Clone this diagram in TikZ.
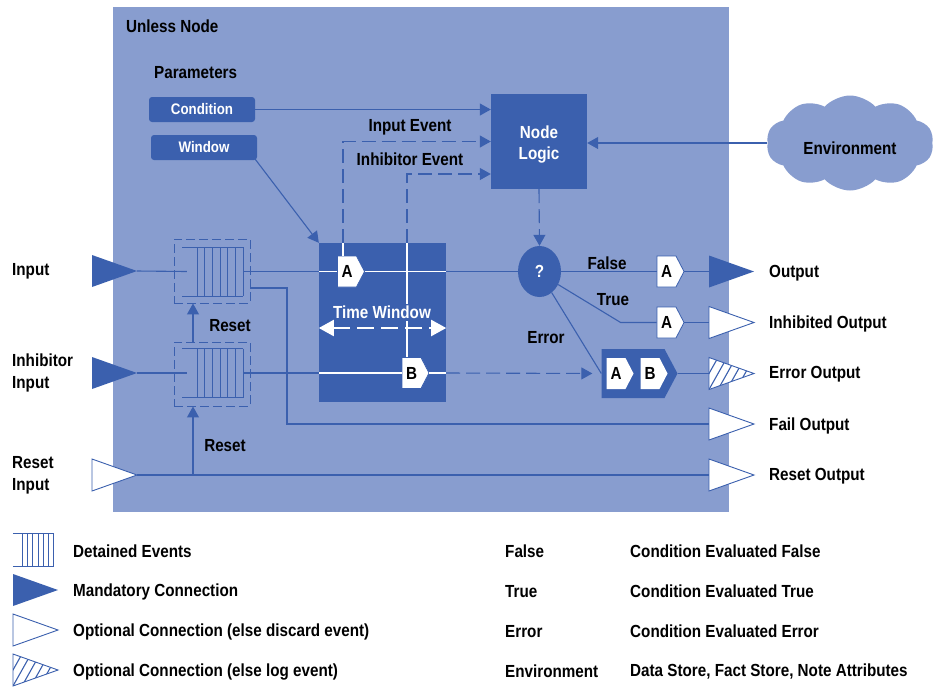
\documentclass[tikz,border=0pt]{standalone}
\usepackage{fontspec}
\setmainfont[FakeStretch=0.87]{Liberation Sans}
\usetikzlibrary{calc}
\usetikzlibrary{positioning}
\usetikzlibrary{shapes.geometric}
\usetikzlibrary{shapes.symbols}
\usetikzlibrary{arrows.meta}
\definecolor{paleblue}{RGB}{136,157,207}
\definecolor{deepblue}{RGB}{59,96,174}
\newcommand{\lblsize}{\fontsize{17.5}{22}\selectfont\bfseries}
\tikzstyle{lbl} = [font=\lblsize, inner sep=0pt, align=left, yshift=-1.5pt]
\tikzstyle{lblw} = [lbl, anchor=west]
\tikzstyle{parbox} = [fill=deepblue, rounded corners=3pt, minimum width=106pt, minimum height=25pt, text=white, font=\fontsize{15.3}{17}\selectfont\bfseries]
\tikzstyle{tag} = [signal, signal to=east, signal pointer angle=125, draw=deepblue, fill=white, line width=0.8pt, minimum width=27pt, minimum height=31pt, inner sep=0pt, font=\lblsize]
\tikzstyle{buffer} = [draw=deepblue, dash pattern=on 9pt off 4pt, line width=0.9pt, minimum width=76pt, minimum height=64pt]
\tikzstyle{queue} = [minimum width=61pt, minimum height=49pt, inner sep=0pt]
\tikzstyle{conn} = [draw=deepblue, line width=1.1pt]
\tikzstyle{event} = [conn, dash pattern=on 14pt off 6pt]
\tikzstyle{head} = [-{Triangle[length=11pt, width=12pt]}]
\tikzstyle{wline} = [draw=white, line width=1.8pt]
\tikzset{
  mandatory/.pic={\fill[deepblue] (0,-16) -- (45,0) -- (0,16) -- cycle;},
  optional/.pic={\filldraw[fill=white, draw=deepblue, line width=0.9pt] (0,-16) -- (45,0) -- (0,16) -- cycle;},
  logged/.pic={
    \fill[white] (0,-16) -- (45,0) -- (0,16) -- cycle;
    \begin{scope}
      \clip (0,-16) -- (45,0) -- (0,16) -- cycle;
      \foreach \d in {-18,-9,...,45} \draw[deepblue, line width=1.1pt] (\d,16) -- (\d+18,-16);
    \end{scope}
    \draw[deepblue, line width=0.9pt] (0,-16) -- (45,0) -- (0,16) -- cycle;
  },
  detained/.pic={
    \draw[deepblue, line width=0.9pt] (-30.5,-24.5) -- (30.5,-24.5) (-30.5,24.5) -- (30.5,24.5);
    \foreach \i in {0,...,6} \draw[deepblue, line width=0.9pt] (-15.5+\i*7.67,-24.5) -- (-15.5+\i*7.67,24.5);
  }
}

\begin{document}
\begin{tikzpicture}[x=1pt, y=-1pt]
    \useasboundingbox (0,0) rectangle (933,686);

    % the node frame and its parameters
    \fill[paleblue] (113,7) rectangle (729,512);
    \node[lblw] (title) at (126,25) {Unless Node};
    \node[lblw] (params) at (154,71) {Parameters};
    \node[parbox] (cond) at (202,109.5) {Condition};
    \node[parbox] (win) at (204,147.5) {Window};

    \node[fill=deepblue, minimum width=96pt, minimum height=95pt, text=white, font=\lblsize, align=center] (logic) at (539,141.5) {};
    \node[lbl, text=white, align=center] (logic_txt) at (539,143) {Node\\[-1pt]Logic};
    \node[cloud, cloud puffs=10, cloud puff arc=95, aspect=1.8, fill=paleblue, minimum width=167pt, minimum height=95pt, inner sep=0pt] (env) at (850,143) {};
    \node[lbl] (env_txt) at (850,147) {Environment};

    % time window with its two tags
    \node[fill=deepblue, minimum width=127pt, minimum height=159pt] (tw) at (382.5,322.5) {};
    \node[tag] (tagA) at (347,271.5) {A};
    \node[tag] (tagB) at (411.5,373) {B};
    \coordinate (evA) at ($(tagA.north)+(-4,0)$);
    \coordinate (evB) at ($(tagB.north)+(-4.5,0)$);
    \draw[wline] (tw.west |- tagA) -- (tagA.west) (tagA.east) -- (tw.east |- tagA);
    \draw[wline] (tw.west |- tagB) -- (tagB.west) (tagB.east) -- (tw.east |- tagB);
    \draw[wline] (evA |- tw.north) -- (evA);
    \draw[wline] (evB |- tw.north) -- (evB);
    \node[lbl, text=white, fill=deepblue, inner ysep=2pt] (twlbl) at (382,311) {Time Window};
    \draw[white, line width=2pt, dash pattern=on 17pt off 7pt, {Triangle[length=15pt,width=16pt]}-{Triangle[length=15pt,width=16pt]}] ($(tw.west)+(0,5.5)$) -- ($(tw.east)+(0,5.5)$);

    % detained event queues
    \node[buffer] (inbuf) at (212,271) {};
    \node[buffer] (inhbuf) at (212,374) {};
    \node[queue] (inq) at (212.5,271.5) {};
    \node[queue] (inhq) at (212.5,373) {};
    \pic at (inq) {detained};
    \pic at (inhq) {detained};

    % evaluation and outputs
    \node[ellipse, fill=deepblue, minimum width=43pt, minimum height=51pt, text=white, font=\lblsize, inner sep=0pt] (quest) at (539.5,271.5) {?};
    \node[tag] (fa) at (666.5,271.5) {A};
    \node[tag] (ta) at (666.5,322.5) {A};
    \node[signal, signal to=east, signal pointer angle=124, fill=deepblue, minimum width=76pt, minimum height=49pt] (errbox) at (633,373.5) {};
    \node[tag, draw=none] (ea) at (616,373.5) {A};
    \node[tag, draw=none] (eb) at (650,373.5) {B};

    % connection points
    \pic at (92,271) {mandatory};
    \pic at (92,373) {mandatory};
    \pic at (92,475) {optional};
    \coordinate (in_tip) at (137,271);
    \coordinate (inh_tip) at (137,373);
    \coordinate (rst_tip) at (137,475);
    \pic at (709,271.5) {mandatory};
    \pic at (709,322.5) {optional};
    \pic at (709,373.5) {logged};
    \pic at (709,424) {optional};
    \pic at (709,475) {optional};
    \coordinate (out_base) at (709,271.5);
    \coordinate (inh_base) at (709,322.5);
    \coordinate (err_base) at (709,373.5);
    \coordinate (fail_base) at (709,424);
    \coordinate (rst_base) at (709,475);

    % connectors
    \draw[conn, head] (cond.east) -- (cond.east -| logic.west);
    \draw[conn, head] (env.west) -- (env.west -| logic.east);
    \draw[conn, head] ($(win.south east)+(-2,-1)$) -- (tw.north west);
    \draw[event, head] (evA |- tw.north) -- (evA |- logic.west) -- (logic.west);
    \draw[event, head] (evB |- tw.north) -- (evB |- 0,174) -- (logic.west |- 0,174);
    \draw[event, head] (logic.south) -- (quest.north);

    \draw[conn] (in_tip) -- ($(inq.west)+(5,0)$);
    \draw[conn] (inq.east) -- (tw.west |- inq);
    \draw[conn] (tw.east |- tagA) -- (quest.west);
    \draw[conn] (quest.east) -- (fa.west);
    \draw[conn] (fa.east) -- (out_base);
    \draw[conn] (quest.-35) -- ($(ta.west)+(-36,0)$) -- (ta.west);
    \draw[conn] (ta.east) -- (inh_base);
    \draw[conn] (quest.-60) -- (errbox.west);
    \draw[conn] (errbox.east) -- (err_base);

    \draw[conn] (inh_tip) -- ($(inhq.west)+(5,0)$);
    \draw[conn] (inhq.east) -- (tw.west |- inhq);
    \draw[event, head, shorten >=9pt] (tw.east |- tagB) -- (errbox.west);

    \draw[conn, head] ($(inhbuf.north)+(-19,0)$) -- ($(inbuf.south)+(-19,0)$);
    \coordinate (rst_up) at ($(inhbuf.south)+(-19,0)$);
    \draw[conn] (rst_tip) -- (rst_base);
    \draw[conn, head] (rst_up |- rst_tip) -- (rst_up);
    \coordinate (fail_turn) at (287,424);
    \draw[conn] ($(inbuf.east)+(0,17)$) -| (fail_turn) -- (fail_base);

    % labels
    \node[lbl] (l_inev) at (410,126) {Input Event};
    \node[lbl] (l_inhev) at (410,158) {Inhibitor Event};
    \node[lbl] (l_rst1) at (230,324) {Reset};
    \node[lbl] (l_rst2) at (225,444) {Reset};
    \node[lbl] (l_false) at (607,262) {False};
    \node[lbl] (l_true) at (613,298) {True};
    \node[lbl] (l_err) at (546,336) {Error};
    \node[lblw] (l_in) at (12,270) {Input};
    \node[lblw] (l_inh) at (12,371) {Inhibitor\\Input};
    \node[lblw] (l_rin) at (12,474) {Reset\\Input};
    \node[lblw] (l_out) at (769,272) {Output};
    \node[lblw] (l_inhout) at (769,322) {Inhibited Output};
    \node[lblw] (l_errout) at (769,373) {Error Output};
    \node[lblw] (l_failout) at (769,424) {Fail Output};
    \node[lblw] (l_rstout) at (769,475) {Reset Output};

    % legend
    \pic[xscale=0.66, yscale=0.69] at (33,550) {detained};
    \pic at (13,590) {mandatory};
    \pic at (13,630) {optional};
    \pic at (13,670) {logged};
    \node[lblw] (k_det) at (73,550) {Detained Events};
    \node[lblw] (k_man) at (73,590) {Mandatory Connection};
    \node[lblw] (k_opt) at (73,630) {Optional Connection (else discard event)};
    \node[lblw] (k_log) at (73,670) {Optional Connection (else log event)};
    \node[lblw] (k_false) at (505,550) {False};
    \node[lblw] (k_true) at (505,590) {True};
    \node[lblw] (k_err) at (505,630) {Error};
    \node[lblw] (k_env) at (505,670) {Environment};
    \node[lblw] (d_false) at (630,550) {Condition Evaluated False};
    \node[lblw] (d_true) at (630,590) {Condition Evaluated True};
    \node[lblw] (d_err) at (630,630) {Condition Evaluated Error};
    \node[lblw] (d_env) at (630,670) {Data Store, Fact Store, Note Attributes};
\end{tikzpicture}
\end{document}
